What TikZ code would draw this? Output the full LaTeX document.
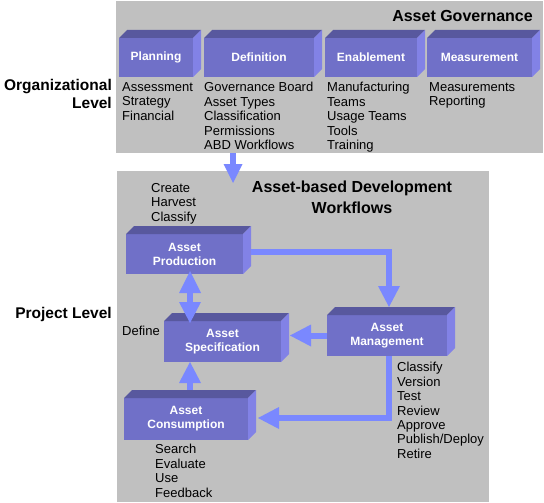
\documentclass[tikz,border=0pt]{standalone}
\usepackage{fontspec}
\setmainfont{Liberation Sans}
\usetikzlibrary{calc,arrows.meta}
\definecolor{panelc}{RGB}{192,192,192}
\definecolor{frontc}{RGB}{112,112,200}
\definecolor{topc}{RGB}{88,88,158}
\definecolor{sidec}{RGB}{130,130,230}
\definecolor{flowc}{RGB}{122,136,255}
\newcommand{\cubefaces}[1]{%
 \fill[topc] (#1.north west) -- ++(8,-8) -- ($(#1.north east)+(8,-8)$) -- (#1.north east) -- cycle;
 \fill[sidec] (#1.north east) -- ++(8,-8) -- ($(#1.south east)+(8,-8)$) -- (#1.south east) -- cycle;}
\begin{document}
\begin{tikzpicture}[x=1pt,y=-1pt,
 panel/.style={fill=panelc, inner sep=0, outer sep=0, anchor=north west},
 cube/.style={fill=frontc, text=white, font=\bfseries\fontsize{12}{14}\selectfont, align=center, inner sep=0, outer sep=0},
 lst/.style={anchor=north west, inner sep=0, align=left, font=\fontsize{13}{14.4}\selectfont},
 ttl/.style={inner sep=0, font=\bfseries\fontsize{16}{20.5}\selectfont},
 lvl/.style={inner sep=0, font=\bfseries\fontsize{15.5}{18}\selectfont, align=right},
 flow/.style={draw=flowc, line width=6pt, line join=miter, -{Triangle[width=22pt,length=21pt,line width=0pt]}},
 flowsmall/.style={draw=flowc, line width=6pt, -{Triangle[width=19pt,length=19pt,line width=0pt]}},
 dflow/.style={draw=flowc, line width=6pt, {Triangle[width=22pt,length=22pt,line width=0pt]}-{Triangle[width=22pt,length=21pt,line width=0pt]}}
]
\useasboundingbox (0,0) rectangle (544,503);
% panels
\node[panel, minimum width=427pt, minimum height=152pt] (gov) at (116,1) {};
\node[panel, minimum width=372pt, minimum height=331pt] (abd) at (117,171) {};
% governance cubes
\node[cube, minimum width=74pt, minimum height=39pt] (plan) at (156,57.5) {Planning};
\node[cube, minimum width=110pt, minimum height=39pt] (def) at (259,57.5) {Definition};
\node[cube, minimum width=92pt, minimum height=39pt] (enab) at (371,57.5) {Enablement};
\node[cube, minimum width=105pt, minimum height=39pt] (meas) at (479.5,57.5) {Measurement};
\cubefaces{plan}\cubefaces{def}\cubefaces{enab}\cubefaces{meas}
% workflow cubes
\node[cube, minimum width=117pt, minimum height=40pt] (prod) at (184.5,254) {Asset\\Production};
\node[cube, minimum width=117pt, minimum height=41pt] (spec) at (222.5,341.5) {Asset\\Specification};
\node[cube, minimum width=120pt, minimum height=41pt] (mgmt) at (387,335.5) {Asset\\Management};
\node[cube, minimum width=124pt, minimum height=42pt] (cons) at (186,419) {Asset\\Consumption};
\cubefaces{prod}\cubefaces{spec}\cubefaces{mgmt}\cubefaces{cons}
% titles
\node[ttl, anchor=east] (tgov) at (533,16) {Asset Governance};
\node[ttl, anchor=north, align=center] (tabd) at (352,181) {Asset-based Development\\Workflows};
\node[lvl, anchor=north east] (lorg) at (112,79.5) {Organizational\\Level};
\node[lvl, anchor=base east] (lproj) at (112,318.5) {Project Level};
% lists
\node[lst] (lplan) at (122,82.3) {Assessment\\Strategy\\Financial};
\node[lst] (ldef) at (204,82.3) {Governance Board\\Asset Types\\Classification\\Permissions\\ABD Workflows};
\node[lst] (lenab) at (327,82.3) {Manufacturing\\Teams\\Usage Teams\\Tools\\Training};
\node[lst] (lmeas) at (429,82.3) {Measurements\\Reporting};
\node[lst] (lprod) at (151,183.3) {Create\\Harvest\\Classify};
\node[lst] (lspec) at (122,326.3) {Define};
\node[lst] (lmgmt) at (397,362.3) {Classify\\Version\\Test\\Review\\Approve\\Publish/Deploy\\Retire};
\node[lst] (lcons) at (155,444.3) {Search\\Evaluate\\Use\\Feedback};
% arrows
\coordinate (g1) at ($(gov.south west)+(117,0)$);
\coordinate (g2) at ($(abd.north west)+(116,12)$);
\draw[flowsmall] (g1) -- (g2);
\coordinate (p1) at ($(prod.east)+(8,-2)$);
\coordinate (m0) at ($(mgmt.north)+(2,-8)$);
\draw[flow] (p1) -| (m0);
\coordinate (p2) at ($(prod.south)+(5.5,-3)$);
\coordinate (s0) at ($(spec.north)+(0,2)$);
\draw[dflow] (p2) -- (p2 |- s0);
\coordinate (s1) at ($(spec.east)+(9,0)$);
\draw[flow] (mgmt.west) -- (mgmt.west -| s1);
\coordinate (c1) at ($(cons.north)+(4,-8)$);
\draw[flow] (c1) -- (c1 |- spec.south);
\coordinate (m1) at ($(mgmt.south)+(2,0)$);
\coordinate (c2) at ($(cons.east)+(10,-1)$);
\draw[flow] (m1) |- (c2);
\end{tikzpicture}
\end{document}
